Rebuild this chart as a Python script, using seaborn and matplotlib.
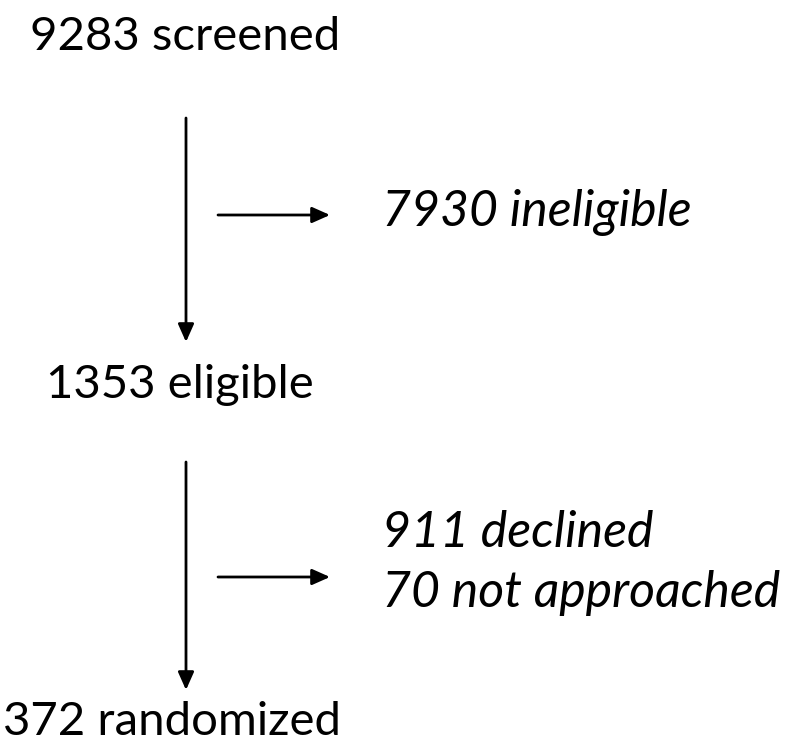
import matplotlib
matplotlib.use("Agg")
import matplotlib.pyplot as plt
import seaborn as sns

# Data
stage_counts = [9283, 1353, 372]
stage_labels = ["screened", "eligible", "randomized"]
excl_counts = [[7930], [911, 70]]
excl_labels = [["ineligible"], ["declined", "not approached"]]

sns.set_theme(style="white")
plt.rcParams['font.family'] = ['Lato', 'DejaVu Sans']

fig = plt.figure(figsize=(7.95, 7.48), dpi=100)
ax = fig.add_axes([0, 0, 1, 1])
ax.set_xlim(0, 795)
ax.set_ylim(748, 0)
ax.axis("off")

stage_pos = [(30, 37), (46, 385), (3, 722)]
for (x, y), n, lab in zip(stage_pos, stage_counts, stage_labels):
    ax.text(x, y, f"{n} {lab}", ha="left", va="center", fontsize=34, color="black")

vert = [(118, 342), (462, 690)]
for y0, y1 in vert:
    ax.annotate("", xy=(186, y1), xytext=(186, y0),
                arrowprops=dict(arrowstyle="-|>,head_length=0.9,head_width=0.4",
                                color="black", lw=2, shrinkA=0, shrinkB=0))

horiz_y = [215, 577]
excl_text_y = [[212], [533, 593]]
for hy, cnts, labs, tys in zip(horiz_y, excl_counts, excl_labels, excl_text_y):
    ax.annotate("", xy=(330, hy), xytext=(218, hy),
                arrowprops=dict(arrowstyle="-|>,head_length=0.9,head_width=0.4",
                                color="black", lw=2, shrinkA=0, shrinkB=0))
    for c, l, ty in zip(cnts, labs, tys):
        ax.text(382, ty, f"{c} {l}", ha="left", va="center", fontsize=36,
                style="italic", color="black")

fig.savefig("out.png", dpi=100)
